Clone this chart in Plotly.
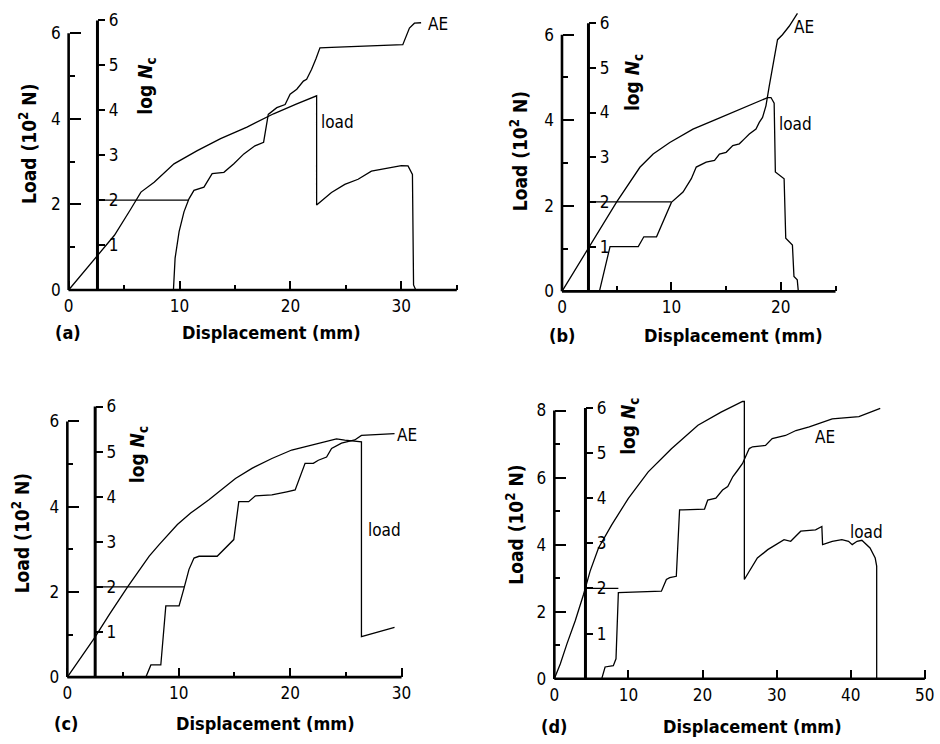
import plotly.graph_objects as go

W, H = 940, 744

# ---------------- data ----------------
# (a)
a_load_x = [0, 2.63, 4.13, 5.62, 6.52, 7.71, 9.5, 11.6, 13.7, 16.08, 18.48, 20.57, 22.2, 22.36, 22.36, 23.7, 24.9, 26.1, 27.3, 28.8, 30.0, 30.6, 31.0, 31.1, 31.3]
a_load_y = [0, 0.82, 1.28, 1.90, 2.29, 2.52, 2.95, 3.26, 3.54, 3.81, 4.12, 4.35, 4.54, 4.54, 1.99, 2.28, 2.47, 2.59, 2.78, 2.86, 2.91, 2.90, 2.70, 0.12, 0]
a_ae_x = [0, 9.45, 9.6, 9.96, 10.40, 10.85, 11.3, 12.2, 12.94, 14.0, 14.9, 15.8, 16.8, 17.58, 18.0, 18.77, 19.52, 19.97, 20.57, 21.17, 21.46, 21.9, 22.3, 22.66, 23.71, 30.13, 30.73, 31.18, 31.78]
a_ae_y = [0, 0, 0.71, 1.30, 1.74, 2.03, 2.22, 2.29, 2.59, 2.62, 2.81, 3.03, 3.21, 3.29, 3.91, 4.06, 4.13, 4.36, 4.47, 4.65, 4.69, 4.91, 5.15, 5.39, 5.40, 5.46, 5.83, 5.94, 5.95]
a_ref_x = [2.6, 10.85]
a_ref_y = [2.0, 2.0]

# (b)
b_load_x = [0, 2.42, 5.0, 7.12, 8.33, 9.85, 11.97, 14.09, 16.52, 18.8, 19.1, 19.39, 19.5, 20.3, 20.45, 21.06, 21.2, 21.5, 21.6]
b_load_y = [0, 1.0, 2.09, 2.90, 3.21, 3.48, 3.79, 4.02, 4.29, 4.53, 4.53, 4.40, 2.79, 2.63, 1.24, 1.08, 0.35, 0.27, 0]
b_ae_x = [0, 3.42, 4.39, 6.97, 7.48, 8.64, 10.0, 11.06, 11.82, 12.27, 13.18, 13.94, 14.39, 15.0, 15.61, 16.21, 16.67, 17.12, 17.73, 18.03, 18.33, 18.64, 18.94, 19.24, 19.70, 20.15, 20.76, 21.52]
b_ae_y = [0, 0, 1.0, 1.0, 1.22, 1.22, 1.99, 2.22, 2.52, 2.78, 2.89, 2.93, 3.07, 3.11, 3.26, 3.30, 3.41, 3.52, 3.63, 3.78, 3.89, 4.15, 4.59, 5.04, 5.63, 5.74, 5.93, 6.22]
b_ref_x = [2.42, 10.0]
b_ref_y = [2.0, 2.0]

# (c)
c_load_x = [0, 2.44, 3.79, 5.41, 7.35, 8.24, 9.88, 11.07, 12.71, 15.09, 16.57, 18.36, 20.14, 21.93, 24.16, 24.9, 25.95, 26.4, 26.4, 29.37]
c_load_y = [0, 0.92, 1.48, 2.12, 2.84, 3.11, 3.58, 3.85, 4.16, 4.66, 4.90, 5.13, 5.33, 5.44, 5.59, 5.56, 5.54, 5.52, 0.95, 1.17]
c_ae_x = [0, 7.05, 7.5, 8.39, 8.84, 10.03, 10.48, 10.92, 11.37, 11.82, 13.45, 14.2, 14.94, 15.39, 16.28, 16.88, 18.36, 19.7, 20.45, 21.34, 22.08, 22.53, 23.27, 23.72, 24.61, 25.8, 26.4, 29.37]
c_ae_y = [0, 0, 0.27, 0.27, 1.58, 1.58, 1.98, 2.39, 2.64, 2.68, 2.68, 2.86, 3.05, 3.89, 3.89, 4.02, 4.04, 4.11, 4.15, 4.74, 4.74, 4.81, 4.88, 5.07, 5.19, 5.26, 5.36, 5.40]
c_ref_x = [2.5, 10.48]
c_ref_y = [2.0, 2.0]

# (d)
d_load_x = [0, 0.8, 1.70, 2.82, 3.95, 4.83, 5.96, 7.74, 9.99, 12.67, 15.8, 19.38, 22.5, 25.4, 25.64, 25.64, 27.4, 28.8, 31.0, 31.9, 33.25, 35.25, 36.1, 36.2, 37.5, 38.8, 39.7, 40.2, 40.85, 41.5, 42.6, 43.3, 43.5, 43.5]
d_load_y = [0, 0.44, 1.04, 1.73, 2.52, 3.21, 3.90, 4.59, 5.38, 6.17, 6.86, 7.56, 7.95, 8.27, 8.27, 2.96, 3.60, 3.85, 4.15, 4.10, 4.40, 4.44, 4.54, 4.00, 4.10, 4.15, 4.10, 4.00, 4.10, 4.13, 3.90, 3.60, 3.36, 0]
d_ae_x = [0, 6.4, 6.85, 7.96, 8.32, 8.64, 14.45, 15.12, 15.57, 16.46, 16.9, 17.35, 20.27, 20.7, 21.8, 22.7, 23.4, 24.1, 24.74, 25.4, 26.3, 26.75, 28.5, 29.4, 31.2, 32.6, 34.4, 35.7, 37.5, 41.1, 42.6, 43.98]
d_ae_y = [0, 0, 0.26, 0.29, 0.44, 1.91, 1.94, 2.20, 2.24, 2.27, 3.74, 3.74, 3.76, 3.96, 4.00, 4.18, 4.26, 4.48, 4.62, 4.77, 5.10, 5.14, 5.17, 5.32, 5.39, 5.50, 5.58, 5.65, 5.76, 5.81, 5.91, 5.99]
d_ref_x = [4.2, 8.64]
d_ref_y = [2.0, 2.0]

panel_labels = ["(a)", "(b)", "(c)", "(d)"]
x_major = [[0, 10, 20, 30], [0, 10, 20], [0, 10, 20, 30], [0, 10, 20, 30, 40, 50]]
x_minor = [[5, 15, 25, 35], [5, 15, 25], [5, 15, 25], []]
x_end = [35, 25, 30, 50]
load_major = [[0, 2, 4, 6], [0, 2, 4, 6], [0, 2, 4, 6], [0, 2, 4, 6, 8]]
load_minor = [[1, 3, 5], [1, 3, 5], [1, 3, 5], [1, 3, 5, 7]]
log_ticks = [1, 2, 3, 4, 5, 6]
log_axis_x = [2.6, 2.42, 2.5, 4.2]

data = [
    (a_load_x, a_load_y, a_ae_x, a_ae_y, a_ref_x, a_ref_y),
    (b_load_x, b_load_y, b_ae_x, b_ae_y, b_ref_x, b_ref_y),
    (c_load_x, c_load_y, c_ae_x, c_ae_y, c_ref_x, c_ref_y),
    (d_load_x, d_load_y, d_ae_x, d_ae_y, d_ref_x, d_ref_y),
]

# ---------------- geometry (pixels in the 940x744 page) ----------------
geom = [
    dict(x0=69.0, pxmm=11.15, y0=292.0, uL=43.07, uG=45.23, top=6),
    dict(x0=565.0, pxmm=11.0, y0=293.3, uL=43.07, uG=45.0, top=6),
    dict(x0=67.7, pxmm=11.2, y0=681.7, uL=42.9, uG=45.4, top=392),
    dict(x0=557.3, pxmm=7.45, y0=683.3, uL=33.75, uG=45.43, top=392),
]
text_pos = [
    dict(load=(28, 145), disp=(273, 335), lab=(68, 335), log=(147, 87), ae=(440, 24), ld=(339, 123)),
    dict(load=(522, 152), disp=(737, 338), lab=(565, 338), log=(637, 83), ae=(808, 27), ld=(800, 125)),
    dict(load=(22, 537), disp=(267, 728), lab=(66, 728), log=(140, 458), ae=(409, 438), ld=(387, 534)),
    dict(load=(518, 528), disp=(757, 731), lab=(557, 731), log=(632, 429), ae=(829, 440), ld=(871, 536)),
]

FAM = "Liberation Sans Narrow, DejaVu Sans Condensed, Liberation Sans, sans-serif"
TICKFONT = dict(family=FAM, size=17, color="black")

def fx(px):
    return px / W

def fy(py):
    return 1 - py / H

fig = go.Figure()
layout = dict(width=W, height=H, margin=dict(l=0, r=0, t=0, b=0),
              paper_bgcolor="white", plot_bgcolor="rgba(0,0,0,0)", showlegend=False)
shapes = []
annotations = []

for i in range(4):
    n = i + 1
    g = geom[i]
    lx, ly, ax, ay, rx, ry = data[i]
    xs = "" if n == 1 else str(n)
    xk, yk, gk = "xaxis" + xs, "yaxis" + xs, "yaxis" + str(n + 4)
    xr, yr, gr = "x" + xs, "y" + xs, "y" + str(n + 4)

    left = g["x0"] - 5
    right = g["x0"] + x_end[i] * g["pxmm"] + 5
    bottom = g["y0"] + 5
    topp = g["top"]
    xrange = [(left - g["x0"]) / g["pxmm"], (right - g["x0"]) / g["pxmm"]]
    yrange = [(g["y0"] - bottom) / g["uL"], (g["y0"] - topp) / g["uL"]]
    grange = [(g["y0"] - bottom) / g["uG"], (g["y0"] - topp) / g["uG"]]

    layout[xk] = dict(domain=[fx(left), fx(right)], range=xrange, anchor="free", position=fy(g["y0"]),
                      showgrid=False, zeroline=False, showline=False,
                      ticks="inside", ticklen=9, tickwidth=1.5, tickcolor="black",
                      tickvals=x_major[i], ticktext=[str(v) for v in x_major[i]],
                      tickfont=TICKFONT, ticklabelstandoff=4,
                      minor=dict(tickvals=x_minor[i], ticks="inside", ticklen=5, tickwidth=1.5, tickcolor="black"))
    layout[yk] = dict(domain=[fy(bottom), fy(topp)], range=yrange, anchor="free", position=fx(g["x0"]),
                      showgrid=False, zeroline=False, showline=False,
                      ticks="inside", ticklen=11, tickwidth=1.5, tickcolor="black",
                      tickvals=load_major[i], ticktext=[str(v) for v in load_major[i]],
                      tickfont=TICKFONT, ticklabelstandoff=8,
                      minor=dict(tickvals=load_minor[i], ticks="inside", ticklen=5, tickwidth=1.5, tickcolor="black"))
    logpx = g["x0"] + log_axis_x[i] * g["pxmm"]
    layout[gk] = dict(overlaying=yr, range=grange, anchor="free", position=fx(logpx), side="right",
                      showgrid=False, zeroline=False, showline=False,
                      ticks="outside", ticklen=7, tickwidth=1.5, tickcolor="black",
                      tickvals=log_ticks, ticktext=[str(v) for v in log_ticks],
                      tickfont=TICKFONT, ticklabelstandoff=0)

    line = dict(color="black", width=1.3)
    fig.add_trace(go.Scatter(x=lx, y=ly, mode="lines", line=line, xaxis=xr, yaxis=yr, hoverinfo="skip"))
    fig.add_trace(go.Scatter(x=ax, y=ay, mode="lines", line=line, xaxis=xr, yaxis=gr, hoverinfo="skip"))
    fig.add_trace(go.Scatter(x=rx, y=ry, mode="lines", line=line, xaxis=xr, yaxis=gr, hoverinfo="skip"))

    # axis lines
    shapes.append(dict(type="line", xref=xr, yref=yr, x0=0, x1=x_end[i], y0=0, y1=0,
                       line=dict(color="black", width=2.6)))
    shapes.append(dict(type="line", xref=xr, yref=yr, x0=0, x1=0, y0=0, y1=load_major[i][-1],
                       line=dict(color="black", width=2.6)))
    shapes.append(dict(type="line", xref=xr, yref=gr, x0=log_axis_x[i], x1=log_axis_x[i], y0=0, y1=log_ticks[-1],
                       line=dict(color="black", width=3)))

    t = text_pos[i]
    annotations += [
        dict(text="<b>Load (10<sup>2</sup> N)</b>", x=fx(t["load"][0]), y=fy(t["load"][1]), xref="paper", yref="paper",
             textangle=-90, showarrow=False, font=dict(family=FAM, size=19, color="black"),
             xanchor="center", yanchor="middle"),
        dict(text="<b>Displacement (mm)</b>", x=fx(t["disp"][0]), y=fy(t["disp"][1]), xref="paper", yref="paper",
             showarrow=False, font=dict(family=FAM, size=18, color="black"), xanchor="center", yanchor="middle"),
        dict(text="<b>" + panel_labels[i] + "</b>", x=fx(t["lab"][0]), y=fy(t["lab"][1]), xref="paper", yref="paper",
             showarrow=False, font=dict(family=FAM, size=18, color="black"), xanchor="center", yanchor="middle"),
        dict(text="<b>log <i>N</i><sub>c</sub></b>", x=fx(t["log"][0]), y=fy(t["log"][1]), xref="paper", yref="paper",
             textangle=-90, showarrow=False, font=dict(family=FAM, size=19, color="black"),
             xanchor="center", yanchor="middle"),
        dict(text="AE", x=fx(t["ae"][0]), y=fy(t["ae"][1]), xref="paper", yref="paper",
             showarrow=False, font=TICKFONT, xanchor="center", yanchor="middle"),
        dict(text="load", x=fx(t["ld"][0]), y=fy(t["ld"][1]), xref="paper", yref="paper",
             showarrow=False, font=TICKFONT, xanchor="center", yanchor="middle"),
    ]

layout["shapes"] = shapes
layout["annotations"] = annotations
fig.update_layout(**layout)
fig.write_html("out.html", config={"displayModeBar": False},
               post_script="document.body.style.margin='0px';document.body.style.overflow='hidden';")
